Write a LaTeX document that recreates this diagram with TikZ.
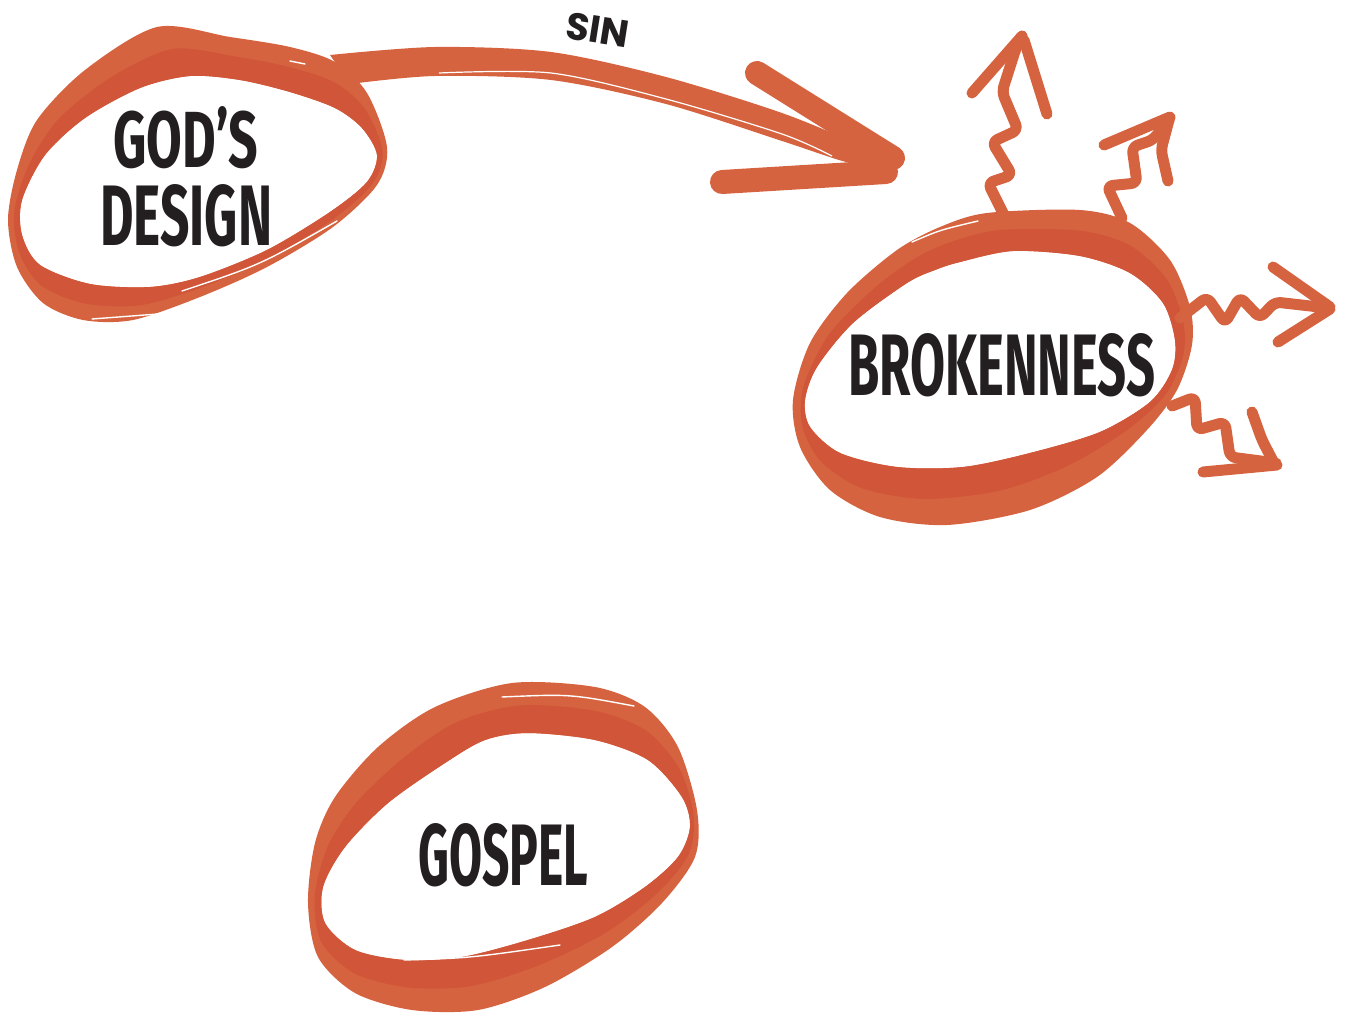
\documentclass[tikz,border=0pt]{standalone}
\usepackage{fontspec}
\usepackage{graphicx}
\setmainfont{Fira Sans}
\newfontfamily\sinfont{Poppins}
\usetikzlibrary{calc}
\definecolor{ora}{RGB}{214,99,63}
\definecolor{orb}{RGB}{208,85,57}
\definecolor{ink}{RGB}{35,31,32}
\newcommand\sketchring[1]{%
  \gdef\RO{}\gdef\RI{}\gdef\RM{}%
  \foreach \ox/\oy/\ix/\iy in {#1}{%
    \pgfmathsetmacro\mx{\ix+0.55*(\ox-\ix)}%
    \pgfmathsetmacro\my{\iy+0.55*(\oy-\iy)}%
    \xdef\RO{\RO(\ox,\oy)}\xdef\RI{\RI(\ix,\iy)}\xdef\RM{\RM(\mx,\my)}}%
  \edef\ringcmd{\noexpand\fill[ringfill] plot[smooth cycle] coordinates {\RO} plot[smooth cycle] coordinates {\RI};
    \noexpand\fill[ringdark] plot[smooth cycle] coordinates {\RM} plot[smooth cycle] coordinates {\RI};}%
  \ringcmd}
\begin{document}
\begin{tikzpicture}[x=1pt,y=-1pt,
  ringfill/.style={fill=ora, even odd rule},
  ringdark/.style={fill=orb, even odd rule},
  squig/.style={draw=ora, line width=11pt, line cap=round, line join=round, rounded corners=6pt},
  barb/.style={draw=ora, line width=24pt, line cap=round},
  scratch/.style={draw=white, line width=1.4pt, line cap=round},
  lbl/.style={anchor=base west, inner sep=0pt, text=ink, font=\bfseries\fontsize{60}{60}\selectfont}]
\useasboundingbox (0,0) rectangle (1345,1025);

% GOD'S DESIGN ring
\sketchring{157/27/190/76, 230/37/240/80, 290/47/290/92, 335/62/335/108, 367/93/362/128, 387/147/377/155, 377/185/367/182, 333/227/330/212, 267/267/267/250, 200/297/200/277, 133/320/150/287, 83/320/90/284, 43/303/40/265, 17/267/22/235, 8/220/22/200, 17/170/45/155, 37/120/85/118, 85/70/140/88}
\draw[scratch] (182,291) .. controls (260,265) .. (337,221);
\draw[scratch] (92,319) -- (158,314);
\draw[scratch] (290,61) -- (305,64);

% BROKENNESS ring
\sketchring{940/227/960/262, 987/213/1013/251, 1080/210/1080/256, 1130/223/1130/273, 1170/260/1163/303, 1190/307/1175/340, 1192/345/1172/370, 1177/390/1150/402, 1147/430/1100/432, 1097/477/1030/453, 1030/510/963/467, 947/525/897/467, 880/517/840/453, 830/490/810/427, 800/447/805/400, 793/400/817/367, 810/343/853/323, 847/293/907/283, 897/250/935/270}
\draw[scratch] (912,242) .. controls (940,230) .. (978,221);

% GOSPEL ring
\sketchring{512/683/528/733, 595/687/595/740, 645/707/648/760, 678/747/682/797, 697/810/690/827, 695/857/678/857, 662/903/645/887, 612/947/595/917, 545/987/528/940, 478/1010/462/957, 412/1010/405/960, 355/993/355/950, 318/957/325/923, 308/903/323/887, 315/843/345/847, 335/797/388/803, 378/747/445/763, 435/707/485/740}
\draw[scratch] (502,697) .. controls (570,694) .. (634,706);
\draw[scratch] (404,960) .. controls (470,958) .. (560,945);

% SIN arrow
\fill[ora] plot[smooth] coordinates {(330,55) (435,47) (551,52) (666,77) (782,113) (860,145) (898,163)}
  -- plot[smooth] coordinates {(885,172) (839,160) (782,141) (666,104) (551,80) (435,76) (350,84)} -- cycle;
\draw[white, line width=1.2pt] plot[smooth] coordinates {(439,73) (551,73) (666,99) (782,134) (832,156)};
\draw[barb] (757,73) -- (893,158);
\draw[barb] (722,182) -- (886,172);

% squiggly arrows
\draw[squig] (1005,217) -- (988,183) -- (1012,175) -- (992,142) -- (1018,130) -- (1002,92) -- (1016,48) -- (1022,36);
\draw[squig] (972,93) -- (1022,36);
\draw[squig] (1024,40) -- (1047,114);

\draw[squig] (1122,218) -- (1107,186) -- (1137,183) -- (1132,147) -- (1153,140) -- (1170,118);
\draw[squig] (1104,145) -- (1170,117);
\draw[squig] (1169,120) -- (1161,150) -- (1168,181);

\draw[squig] (1180,318) -- (1207,297) -- (1225,323) -- (1240,297) -- (1260,318) -- (1275,302) -- (1328,308);
\draw[squig] (1273,267) -- (1330,307);
\draw[squig] (1330,309) -- (1278,342);

\draw[squig] (1172,406) -- (1195,397) -- (1197,430) -- (1225,422) -- (1230,457) -- (1276,463);
\draw[squig] (1252,412) -- (1262,440) -- (1274,463);
\draw[squig] (1277,465) -- (1203,472);

% labels
\node[lbl] (gods) at (113,167) {\resizebox{145pt}{61pt}{GOD’S}};
\node[lbl] (design) at (100,245) {\resizebox{172pt}{61pt}{DESIGN}};
\node[lbl] (brk) at (848,395) {\resizebox{307pt}{62pt}{BROKENNESS}};
\node[lbl] (gsp) at (418,885) {\resizebox{170pt}{62pt}{GOSPEL}};
\node[text=ink, rotate=-9, inner sep=0pt, font=\sinfont\bfseries\fontsize{38}{38}\selectfont] (sin) at (598,30) {SIN};
\end{tikzpicture}
\end{document}
